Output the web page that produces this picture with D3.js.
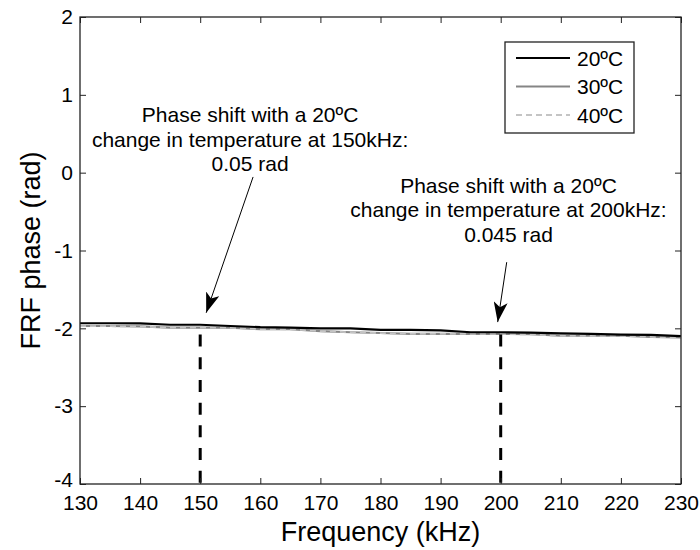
<!DOCTYPE html>
<html><head><meta charset="utf-8">
<script src="https://cdn.jsdelivr.net/npm/d3@7"></script>
<style>body{margin:0;background:#fff}svg{display:block}text{font-family:Arial,"Liberation Sans",sans-serif}</style>
</head><body><svg id="c" width="700" height="550"></svg>
<script>
const freq = [130,135,140,145,150,155,160,165,170,175,180,185,190,195,200,205,210,215,220,225,230];
const phase20 = [-1.935,-1.935,-1.937,-1.954,-1.954,-1.970,-1.985,-1.990,-2.000,-2.000,-2.020,-2.020,-2.025,-2.050,-2.050,-2.055,-2.065,-2.070,-2.080,-2.085,-2.100];
const phase30 = [-1.970,-1.970,-1.975,-1.990,-1.990,-1.990,-2.010,-2.010,-2.035,-2.050,-2.060,-2.070,-2.070,-2.070,-2.070,-2.075,-2.095,-2.095,-2.095,-2.110,-2.115];
const phase40 = [-1.972,-1.972,-1.977,-1.990,-1.992,-1.992,-2.010,-2.012,-2.035,-2.050,-2.062,-2.070,-2.072,-2.072,-2.072,-2.078,-2.095,-2.097,-2.097,-2.110,-2.117];
const seriesNames = ["20ºC","30ºC","40ºC"];
const xTicks = [130,140,150,160,170,180,190,200,210,220,230];
const yTicks = [-4,-3,-2,-1,0,1,2];
const markFreqs = [150,200];
const markTop = [-2.08,-2.08];
const notes = [
  {lines:["Phase shift with a 20ºC","change in temperature at 150kHz:","0.05 rad"], fx:158.3, fy:0.65, from:[158.8,-0.055], to:[151,-1.80]},
  {lines:["Phase shift with a 20ºC","change in temperature at 200kHz:","0.045 rad"], fx:201.3, fy:-0.26, from:[201,-1.15], to:[199.5,-1.92]}
];

const svg = d3.select("#c");
const L=80, R=681, T=17, B=484;
const x = d3.scaleLinear().domain([130,230]).range([L,R]);
const y = d3.scaleLinear().domain([-4,2]).range([B,T]);
const fmt = d => String(d);

const styles = [
  {stroke:"#000", w:2.2, dash:null},
  {stroke:"#858585", w:2.2, dash:null},
  {stroke:"#c4c4c4", w:1.8, dash:"6,4"}
];
const data = [phase20, phase30, phase40];
const line = d3.line().x((d,i)=>x(freq[i])).y(d=>y(d));

[1,2,0].forEach(k=>{
  svg.append("path").attr("d", line(data[k])).attr("fill","none")
    .attr("stroke", styles[k].stroke).attr("stroke-width", styles[k].w)
    .attr("stroke-dasharray", styles[k].dash);
});
markFreqs.forEach((f,i)=>{
  svg.append("line").attr("x1",x(f)).attr("x2",x(f)).attr("y1",y(markTop[i])).attr("y2",y(-4))
    .attr("stroke","#000").attr("stroke-width",3).attr("stroke-dasharray","12,10.7");
});

const tl = 6;
svg.append("g").attr("transform",`translate(0,${B})`).call(d3.axisBottom(x).tickValues(xTicks).tickFormat(fmt).tickSizeInner(-tl).tickSizeOuter(0))
  .call(g=>{g.select(".domain").remove(); g.selectAll("text").attr("font-size",21).attr("fill","#000").attr("dy","0.71em").attr("y",11); g.selectAll("line").attr("stroke","#222");});
svg.append("g").attr("transform",`translate(0,${T})`).call(d3.axisTop(x).tickValues(xTicks).tickSizeInner(-tl).tickSizeOuter(0).tickFormat(""))
  .call(g=>{g.select(".domain").remove(); g.selectAll("line").attr("stroke","#222");});
svg.append("g").attr("transform",`translate(${L},0)`).call(d3.axisLeft(y).tickValues(yTicks).tickFormat(fmt).tickSizeInner(-tl).tickSizeOuter(0))
  .call(g=>{g.select(".domain").remove();
    g.selectAll("text").attr("font-size",21).attr("fill","#000").attr("x",-7)
      .attr("dy", d => d === -4 ? "0.1em" : "0.32em");
    g.selectAll("line").attr("stroke","#222");});
svg.append("g").attr("transform",`translate(${R},0)`).call(d3.axisRight(y).tickValues(yTicks).tickSizeInner(-tl).tickSizeOuter(0).tickFormat(""))
  .call(g=>{g.select(".domain").remove(); g.selectAll("line").attr("stroke","#222");});
svg.append("rect").attr("x",L).attr("y",T).attr("width",R-L).attr("height",B-T)
  .attr("fill","none").attr("stroke","#222").attr("stroke-width",1.3);

svg.append("text").attr("x",(L+R)/2).attr("y",541).attr("text-anchor","middle").attr("font-size",27).text("Frequency (kHz)");
svg.append("text").attr("transform",`translate(40,${(T+B)/2}) rotate(-90)`).attr("text-anchor","middle").attr("font-size",27).text("FRF phase (rad)");

svg.append("defs").append("marker").attr("id","ah").attr("viewBox","0 0 20 14").attr("refX",20).attr("refY",7)
  .attr("markerWidth",20).attr("markerHeight",14).attr("markerUnits","userSpaceOnUse").attr("orient","auto")
  .append("path").attr("d","M0,0 L20,7 L0,14 L5,7 Z").attr("fill","#000");
notes.forEach(n=>{
  const t = svg.append("text").attr("x",x(n.fx)).attr("y",y(n.fy)).attr("text-anchor","middle").attr("font-size",21);
  n.lines.forEach((s,i)=>t.append("tspan").attr("x",x(n.fx)).attr("dy",i?24.5:0).text(s));
  svg.append("line").attr("x1",x(n.from[0])).attr("y1",y(n.from[1])).attr("x2",x(n.to[0])).attr("y2",y(n.to[1]))
    .attr("stroke","#000").attr("stroke-width",1).attr("marker-end","url(#ah)");
});

const lg = svg.append("g");
lg.append("rect").attr("x",505).attr("y",42).attr("width",129).attr("height",91).attr("fill","#fff").attr("stroke","#222").attr("stroke-width",1.3);
seriesNames.forEach((nm,k)=>{
  const yy = 58 + k*28.5;
  lg.append("line").attr("x1",516).attr("x2",570).attr("y1",yy).attr("y2",yy)
    .attr("stroke",styles[k].stroke).attr("stroke-width",styles[k].w).attr("stroke-dasharray",styles[k].dash);
  lg.append("text").attr("x",577).attr("y",yy).attr("dy","0.36em").attr("font-size",21).text(nm);
});
</script></body></html>
